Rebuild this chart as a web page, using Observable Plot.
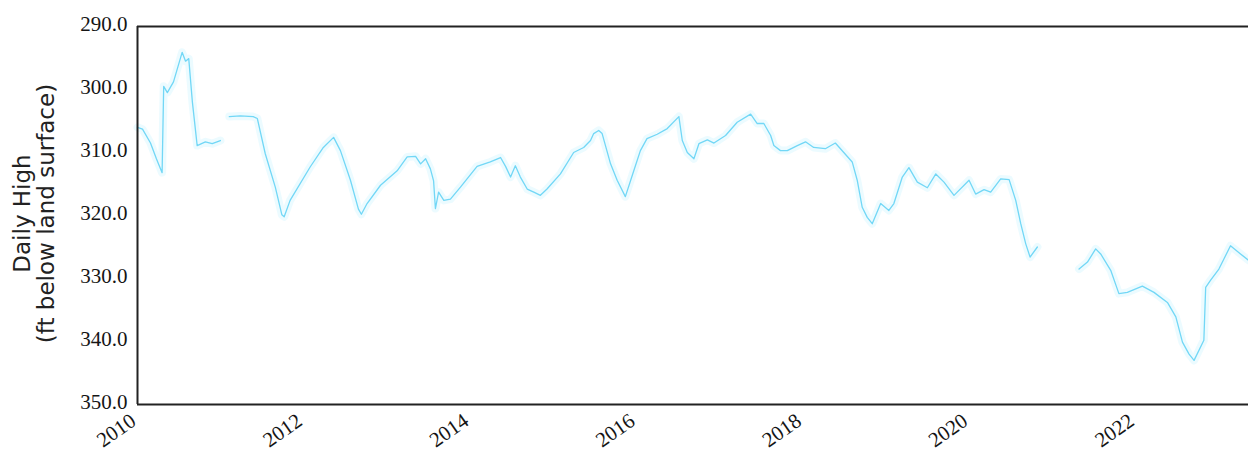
<!DOCTYPE html>
<html>
<head>
<meta charset="utf-8">
<script src="https://cdn.jsdelivr.net/npm/d3@7"></script>
<script src="https://cdn.jsdelivr.net/npm/@observablehq/plot@0.6"></script>
<style>
  html, body { margin: 0; padding: 0; background: #fff; }
  #chart { width: 1248px; height: 456px; overflow: hidden; }
</style>
</head>
<body>
<div id="chart"></div>
<script>
// Dates of readings (null value = gap in record)
const dates = [
  "2010-01-01","2010-01-23","2010-02-27","2010-03-25","2010-04-19","2010-04-26","2010-05-12","2010-06-08",
  "2010-07-16","2010-07-31","2010-08-14","2010-08-30","2010-09-20","2010-10-26","2010-11-25","2010-12-31",
  "2011-01-20",
  "2011-02-08","2011-03-28","2011-05-24","2011-06-11","2011-07-16","2011-08-29","2011-09-27","2011-10-07",
  "2011-11-02","2012-01-29","2012-03-27","2012-05-11","2012-06-10","2012-07-24","2012-08-28","2012-09-10",
  "2012-10-05","2012-12-03","2013-02-14","2013-03-30","2013-05-06","2013-05-28","2013-06-19","2013-07-10",
  "2013-07-24","2013-08-01","2013-08-15","2013-09-07","2013-10-06","2013-11-19","2014-01-31","2014-03-30",
  "2014-05-14","2014-06-05","2014-06-27","2014-07-18","2014-08-09","2014-09-08","2014-10-07","2014-11-05",
  "2014-12-04","2015-02-01","2015-03-31","2015-05-14","2015-06-13","2015-06-27","2015-07-19","2015-08-03",
  "2015-09-09","2015-10-08","2015-11-13","2015-12-20","2016-01-18","2016-02-16","2016-04-01","2016-05-15",
  "2016-07-05","2016-07-20","2016-08-11","2016-09-09","2016-10-01","2016-11-07","2016-12-06","2017-01-26",
  "2017-03-18","2017-05-16","2017-06-14","2017-07-13","2017-08-12","2017-08-26","2017-09-24","2017-10-24",
  "2017-12-07","2018-01-12","2018-02-17","2018-04-09","2018-05-23","2018-06-29","2018-08-05","2018-08-27",
  "2018-09-18","2018-10-10","2018-11-01","2018-12-08","2019-01-13","2019-02-04","2019-03-13","2019-04-11",
  "2019-05-18","2019-07-01","2019-08-07","2019-09-12","2019-10-26","2019-12-31","2020-01-29","2020-03-06",
  "2020-04-04","2020-05-18","2020-06-24","2020-07-23","2020-08-14","2020-09-05","2020-09-24","2020-10-26",
  "2021-01-15",
  "2021-04-27","2021-06-03","2021-07-09","2021-07-31","2021-09-13","2021-10-19","2021-11-25","2022-01-30",
  "2022-03-22","2022-05-20","2022-06-26","2022-07-25","2022-08-23","2022-09-14","2022-10-27","2022-11-04",
  "2022-11-25","2023-01-01","2023-01-23","2023-02-21","2023-04-06","2023-05-11"
];
// Daily high depth to water (ft below land surface)
const depths = [
  306.0,306.3,308.5,311.0,313.2,299.5,300.5,298.8,
  294.1,295.5,295.1,302.0,308.9,308.3,308.6,308.1,
  null,
  304.3,304.2,304.3,304.6,310.2,315.5,319.9,320.2,
  317.6,312.3,309.2,307.6,309.7,314.4,319.0,319.8,
  318.1,315.2,312.9,310.7,310.6,311.8,311.0,312.6,
  314.5,318.9,316.3,317.6,317.4,315.5,312.2,311.5,
  310.8,312.2,313.9,312.1,313.9,315.8,316.3,316.8,
  315.8,313.4,310.0,309.2,308.1,307.0,306.5,307.0,
  311.8,314.4,317.0,312.9,309.7,307.8,307.1,306.2,
  304.3,308.1,310.0,311.0,308.6,308.0,308.5,307.3,
  305.2,303.9,305.4,305.4,307.3,308.9,309.7,309.7,
  308.9,308.3,309.2,309.4,308.5,310.0,311.5,314.4,
  318.7,320.3,321.3,318.1,319.2,318.1,313.9,312.4,
  314.7,315.6,313.4,314.7,316.8,314.4,316.6,315.9,
  316.3,314.2,314.3,317.6,321.3,324.5,326.6,325.0,
  null,
  328.5,327.4,325.3,326.1,328.7,332.4,332.2,331.2,
  332.2,333.8,336.1,340.1,342.0,343.0,339.8,331.4,
  330.3,328.5,326.9,324.8,326.1,327.1
];
const yTicks = [290, 300, 310, 320, 330, 340, 350];
const xTickYears = ["2010","2012","2014","2016","2018","2020","2022"];
const xStart = "2010-01-01";
const xEnd = "2023-05-11";
const yTitle = "Daily High\n(ft below land surface)";

const parse = d3.utcParse("%Y-%m-%d");
const data = dates.map((d, i) => ({date: parse(d), depth: depths[i]}));
const xTicks = xTickYears.map(y => parse(y + "-01-01"));
const tickFont = "'Liberation Serif', 'DejaVu Serif', serif";

const chart = Plot.plot({
  width: 1248,
  height: 456,
  marginLeft: 137,
  marginRight: 0,
  marginTop: 26,
  marginBottom: 52,
  style: {background: "#fff", overflow: "visible"},
  x: {type: "utc", domain: [parse(xStart), parse(xEnd)]},
  y: {domain: [290, 350], reverse: true},
  marks: [
    Plot.lineY(data, {x: "date", y: "depth", stroke: "#e6f9ff", strokeWidth: 8, strokeOpacity: 0.75}),
    Plot.lineY(data, {x: "date", y: "depth", stroke: "#72d7f6", strokeWidth: 1.3}),
    Plot.ruleY([290, 350], {stroke: "#222", strokeWidth: 2}),
    Plot.ruleX([parse(xStart)], {stroke: "#222", strokeWidth: 2}),
    Plot.axisY({ticks: yTicks, tickFormat: d3.format(".1f"), tickSize: 0, tickPadding: 10, dy: -2, label: null,
      fontFamily: tickFont, fontSize: 21, fill: "#151515"}),
    Plot.axisX({ticks: xTicks, tickFormat: d3.utcFormat("%Y"), tickSize: 0, tickPadding: 14, dx: -4, tickRotate: -35,
      label: null, fontFamily: tickFont, fontSize: 21, fill: "#151515"}),
    Plot.text([yTitle], {frameAnchor: "left", dx: -103, dy: -2, rotate: -90, text: d => d,
      textAnchor: "middle", lineAnchor: "middle",
      fontFamily: "'DejaVu Sans', sans-serif", fontSize: 23, lineHeight: 1.05, fill: "#222"})
  ]
});
document.getElementById("chart").appendChild(chart);
</script>
</body>
</html>
